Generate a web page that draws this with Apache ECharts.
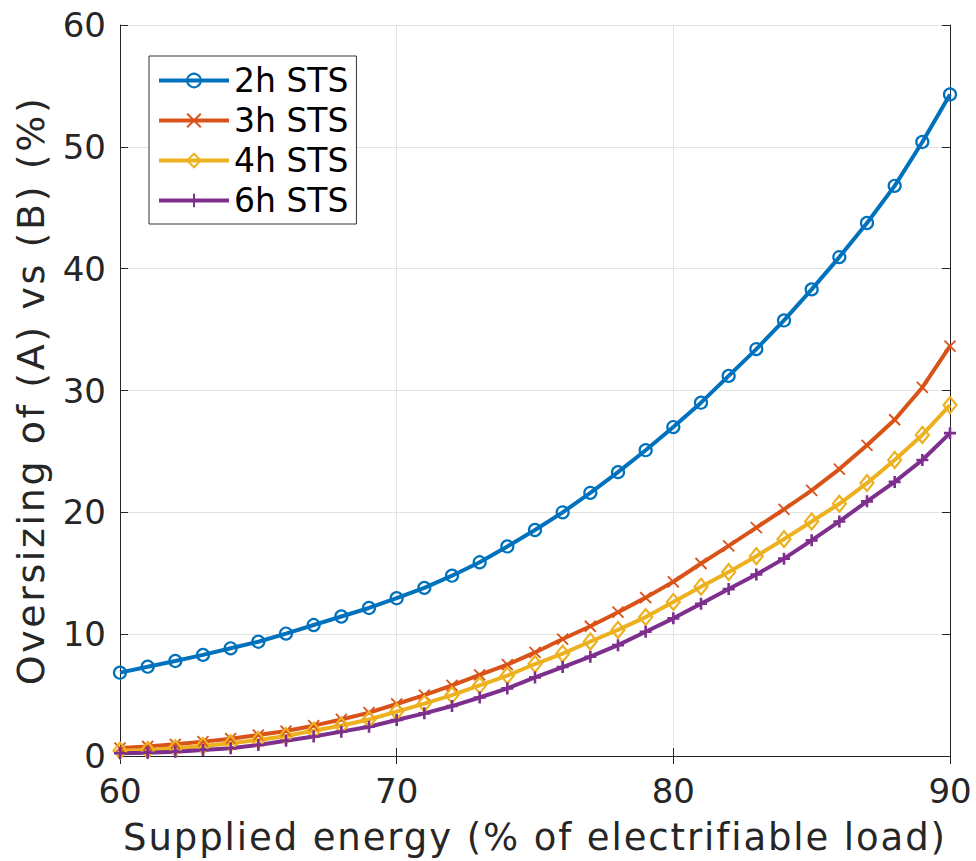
<!DOCTYPE html>
<html>
<head>
<meta charset="utf-8">
<script src="https://cdn.jsdelivr.net/npm/echarts@6/dist/echarts.min.js"></script>
<style>
html,body{margin:0;padding:0;background:#fff;}
#chart{width:976px;height:861px;}
</style>
</head>
<body>
<div id="chart"></div>
<script>
const xValues = [60,61,62,63,64,65,66,67,68,69,70,71,72,73,74,75,76,77,78,79,80,81,82,83,84,85,86,87,88,89,90];
const sts2h = [6.84,7.33,7.8,8.3,8.84,9.38,10.05,10.75,11.45,12.15,12.95,13.8,14.8,15.9,17.2,18.55,20.0,21.6,23.3,25.1,27.0,29.0,31.2,33.4,35.75,38.3,40.95,43.75,46.8,50.4,54.3];
const sts3h = [0.65,0.78,0.96,1.18,1.42,1.72,2.05,2.49,3.0,3.56,4.27,5.0,5.8,6.65,7.5,8.5,9.6,10.65,11.8,13.0,14.3,15.8,17.25,18.75,20.25,21.8,23.55,25.5,27.6,30.25,33.65];
const sts4h = [0.44,0.5,0.63,0.82,1.04,1.31,1.64,2.08,2.5,3.0,3.64,4.3,5.0,5.8,6.6,7.55,8.4,9.4,10.35,11.4,12.65,13.9,15.1,16.4,17.8,19.25,20.7,22.4,24.3,26.35,28.8];
const sts6h = [0.22,0.27,0.35,0.49,0.63,0.9,1.25,1.6,2.0,2.4,2.96,3.5,4.1,4.8,5.55,6.45,7.3,8.15,9.1,10.2,11.3,12.5,13.7,14.9,16.2,17.7,19.25,20.9,22.5,24.3,26.5];
const seriesNames = ['2h STS','3h STS','4h STS','6h STS'];
const xTicks = [60,70,80,90];
const yTicks = [0,10,20,30,40,50,60];
const xName = 'Supplied energy (% of electrifiable load)';
const yName = 'Oversizing of (A) vs (B) (%)';

const FONT = 'DejaVu Sans';
const TXT = '#262626';
const colors = ['#0072BD','#D95319','#EDB120','#7E2F8E'];
const symbols = [
  'circle',
  'path://M0,0 L10,10 M10,0 L0,10',
  'diamond',
  'path://M5,0 L5,10 M0,5 L10,5'
];
const symbolSizes = [12, 11, [13,16], 12];
const borderWidths = [2.2, 1.8, 2.2, 2.6];
const datasets = [sts2h, sts3h, sts4h, sts6h];

const chart = echarts.init(document.getElementById('chart'), null, {renderer:'svg'});

const series = datasets.map((d, i) => ({
  name: seriesNames[i],
  type: 'line',
  data: xValues.map((x, j) => [x, d[j]]),
  smooth: false,
  symbol: symbols[i],
  symbolSize: symbolSizes[i],
  showAllSymbol: true,
  color: colors[i],
  lineStyle: {color: colors[i], width: 4},
  itemStyle: {color: 'rgba(255,255,255,0)', borderColor: colors[i], borderWidth: borderWidths[i]},
  emphasis: {disabled: true},
  animation: false
}));

const axisCommon = {
  type: 'value',
  axisLine: {show: true, lineStyle: {color: TXT, width: 1}},
  axisTick: {show: true, inside: true, length: 8, lineStyle: {color: TXT, width: 1}},
};

chart.setOption({
  animation: false,
  backgroundColor: '#fff',
  grid: {left: 120, right: 26, top: 25, bottom: 105, containLabel: false},
  legend: {
    orient: 'vertical',
    left: 149, top: 56,
    data: seriesNames,
    itemWidth: 70, itemHeight: 17, itemGap: 7,
    padding: [8, 8, 7, 8],
    borderColor: '#333', borderWidth: 1,
    backgroundColor: '#fff',
    lineStyle: {width: 4},
    textStyle: {fontFamily: FONT, fontSize: 33, color: '#000'}
  },
  xAxis: [
    Object.assign({}, axisCommon, {
      min: 60, max: 90, interval: 10, position: 'bottom',
      axisLabel: {show: true, fontFamily: FONT, fontSize: 34, color: TXT, margin: 18,
        formatter: v => xTicks.includes(v) ? String(v) : ''},
      splitLine: {show: true, lineStyle: {color: '#e3e3e3', width: 1}},
      name: xName,
      nameLocation: 'middle', nameGap: 63,
      nameTextStyle: {fontFamily: FONT, fontSize: 37, color: TXT}
    }),
    Object.assign({}, axisCommon, {
      min: 60, max: 90, interval: 10, position: 'top',
      axisLabel: {show: false}, splitLine: {show: false}
    })
  ],
  yAxis: [
    Object.assign({}, axisCommon, {
      min: 0, max: 60, interval: 10, position: 'left',
      axisLabel: {show: true, fontFamily: FONT, fontSize: 34, color: TXT, margin: 14,
        formatter: v => yTicks.includes(v) ? String(v) : ''},
      splitLine: {show: true, lineStyle: {color: '#e3e3e3', width: 1}},
      name: yName,
      nameLocation: 'middle', nameGap: 70,
      nameTextStyle: {fontFamily: FONT, fontSize: 38, color: TXT}
    }),
    Object.assign({}, axisCommon, {
      min: 0, max: 60, interval: 10, position: 'right',
      axisLabel: {show: false}, splitLine: {show: false}
    })
  ],
  series: series
});

function spaceTitles() {
  document.querySelectorAll('#chart text').forEach(t => {
    const s = t.textContent;
    if (s === xName) t.style.letterSpacing = '1.9px';
    else if (s === yName) t.style.letterSpacing = '2.6px';
  });
}
spaceTitles();
chart.on('finished', spaceTitles);
</script>
</body>
</html>
